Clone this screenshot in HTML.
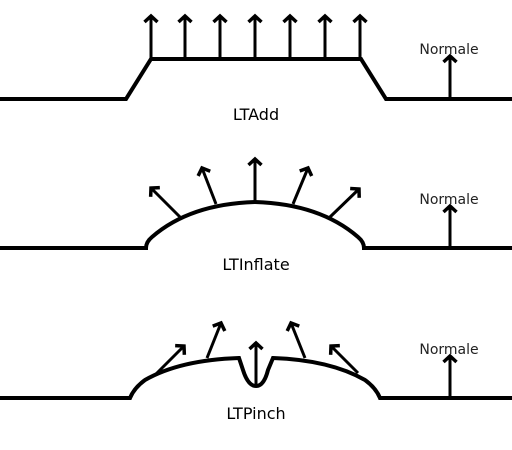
<!DOCTYPE html>
<html><head><meta charset="utf-8"><style>body{margin:0;background:#fff}svg{display:block}</style></head>
<body>
<svg width="512" height="450" viewBox="0 0 512 450" xmlns="http://www.w3.org/2000/svg">
<defs>
<marker id="a" markerUnits="userSpaceOnUse" markerWidth="16" markerHeight="16" refX="8" refY="8" orient="auto">
<polyline points="2,1.5 8,8 2,14.5" fill="none" stroke="#000" stroke-width="3.5"/>
</marker>
</defs>
<g fill="none" stroke="#000" stroke-width="4">
<polyline points="0,99 126,99 151,59 361,59 386,99 512,99"/>
<path d="M0,248 H146 Q146,242 152,237 Q190,204 255,202 Q320,204 358,237 Q364,242 364,248 H512"/>
<path d="M0,398 H130 Q134,388 145,380 Q180,360 239,358 L243,370 Q248,386 256,386 Q264,386 268,370 L273,358 Q330,360 365,380 Q376,388 380,398 H512"/>
</g>
<g stroke="#000" stroke-width="3" marker-end="url(#a)">
<line x1="151" y1="59" x2="151" y2="16"/>
<line x1="185" y1="59" x2="185" y2="16"/>
<line x1="220" y1="59" x2="220" y2="16"/>
<line x1="255" y1="59" x2="255" y2="16"/>
<line x1="290" y1="59" x2="290" y2="16"/>
<line x1="325" y1="59" x2="325" y2="16"/>
<line x1="360" y1="59" x2="360" y2="16"/>
<line x1="450" y1="99" x2="450" y2="56"/>
<line x1="180" y1="217" x2="151" y2="188"/>
<line x1="216" y1="204" x2="202" y2="168"/>
<line x1="255" y1="202" x2="255" y2="159"/>
<line x1="293" y1="204" x2="308" y2="168"/>
<line x1="330" y1="217" x2="359" y2="189"/>
<line x1="450" y1="248" x2="450" y2="206"/>
<line x1="155" y1="375" x2="184" y2="346"/>
<line x1="207" y1="358" x2="221" y2="323"/>
<line x1="256" y1="384" x2="256" y2="343"/>
<line x1="305" y1="358" x2="291" y2="323"/>
<line x1="358" y1="373" x2="331" y2="346"/>
<line x1="450" y1="398" x2="450" y2="356"/>
</g>
<g font-family="DejaVu Sans, sans-serif" fill="#000">
<text x="449" y="54" font-size="14" text-anchor="middle" fill="#222">Normale</text>
<text x="449" y="204" font-size="14" text-anchor="middle" fill="#222">Normale</text>
<text x="449" y="354" font-size="14" text-anchor="middle" fill="#222">Normale</text>
<text x="256" y="120" font-size="16" text-anchor="middle">LTAdd</text>
<text x="256" y="270" font-size="16" text-anchor="middle">LTInflate</text>
<text x="256" y="419" font-size="16" text-anchor="middle">LTPinch</text>
</g>
</svg>
</body></html>
